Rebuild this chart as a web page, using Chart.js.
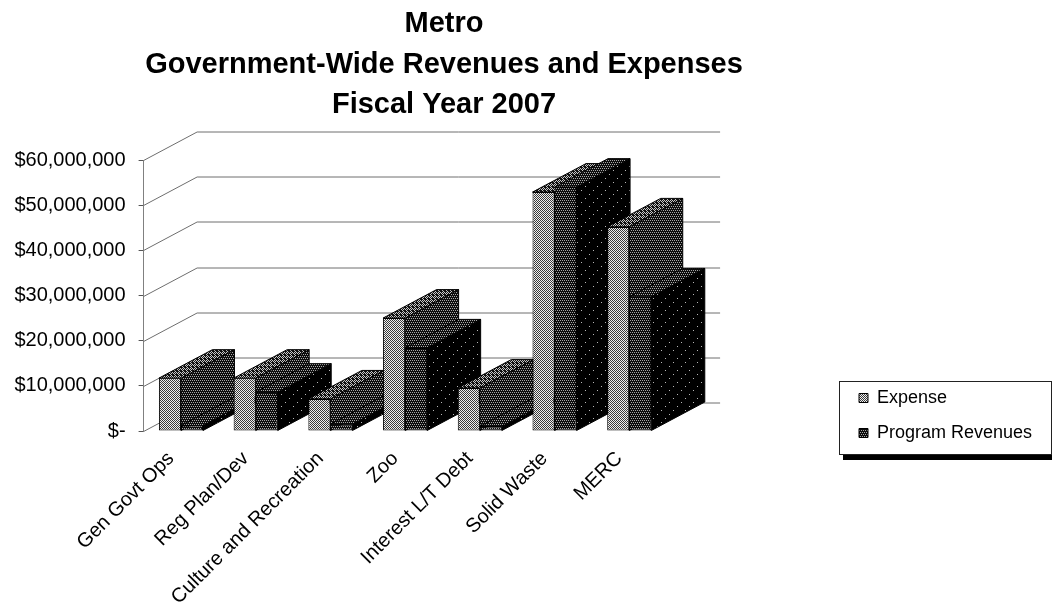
<!DOCTYPE html>
<html>
<head>
<meta charset="utf-8">
<title>Metro revenues and expenses</title>
<script src="https://cdn.jsdelivr.net/npm/chart.js@4"></script>
<style>
  html, body { margin: 0; padding: 0; background: #fff; overflow: hidden; }
  canvas { display: block; }
</style>
</head>
<body>
<canvas id="graphique" width="1052" height="603"></canvas>
<script>
const categories = ["Gen Govt Ops", "Reg Plan/Dev", "Culture and Recreation", "Zoo", "Interest L/T Debt", "Solid Waste", "MERC"];
const expense = [11700000, 11700000, 7100000, 25000000, 9500000, 52900000, 45200000];
const programRevenues = [1200000, 8600000, 1500000, 18400000, 1000000, 54000000, 29700000];
const yTickLabels = ["$-", "$10,000,000", "$20,000,000", "$30,000,000", "$40,000,000", "$50,000,000", "$60,000,000"];
const titleLines = ["Metro", "Government-Wide Revenues and Expenses", "Fiscal Year 2007"];

// Depth of the fake 3D boxes and of the back wall
const DEPTH_X = 53.5;
const DEPTH_Y = 28.5;

// Legend frame, the legend itself only lays out the entries inside it
const FRAME = { left: 840, top: 382, width: 212, height: 73 };

// Small repeating tile of dots, used as a dithered fill
function dither(background, dotColor, dots, w, h) {
  const tile = document.createElement("canvas");
  tile.width = w;
  tile.height = h;
  const c = tile.getContext("2d");
  c.fillStyle = background;
  c.fillRect(0, 0, w, h);
  c.fillStyle = dotColor;
  for (const d of dots) {
    c.fillRect(d[0], d[1], 1, 1);
  }
  return c.createPattern(tile, "repeat");
}

const fillLight = dither("#f0f0f0", "#3a3a3a", [[0, 0], [2, 0], [1, 1], [3, 1], [0, 2], [2, 2], [1, 3], [3, 3]], 4, 4);
const fillTop = dither("#111111", "#c8c8c8", [[0, 0], [2, 0], [1, 1], [3, 1], [2, 2], [3, 3]], 4, 4);
const fillDark = dither("#0c0c0c", "#a8a8a8", [[0, 0], [2, 0], [1, 2], [3, 2]], 4, 4);
const fillBlack = dither("#000000", "#b8b8b8", [[1, 2], [9, 6], [5, 10]], 12, 12);

const boxes3d = {
  id: "boxes3d",
  afterLayout(chart) {
    // The title is centred on the plot with its wall, not on the whole page
    chart.titleBlock.left = 0;
    chart.titleBlock.right = 888;
    const legend = chart.legend;
    legend.left = 842;
    legend.right = 1050;
    legend.top = 372;
    legend.bottom = 520;
    legend.width = 208;
    legend.height = 148;
  },
  beforeDraw(chart) {
    const ctx = chart.ctx;
    ctx.save();
    ctx.fillStyle = "#000";
    ctx.fillRect(FRAME.left + 3, FRAME.top + 5, FRAME.width + 2, FRAME.height);
    ctx.fillStyle = "#fff";
    ctx.strokeStyle = "#222";
    ctx.lineWidth = 1;
    ctx.fillRect(FRAME.left, FRAME.top, FRAME.width, FRAME.height);
    ctx.strokeRect(FRAME.left - 0.5, FRAME.top - 0.5, FRAME.width, FRAME.height);
    ctx.restore();
  },
  beforeDatasetsDraw(chart) {
    // Slanted side wall and back wall gridlines
    const ctx = chart.ctx;
    const y = chart.scales.y;
    const area = chart.chartArea;
    ctx.save();
    ctx.strokeStyle = "#6e6e6e";
    ctx.lineWidth = 1;
    for (const tick of y.ticks) {
      const py = Math.round(y.getPixelForValue(tick.value)) + 0.5;
      ctx.beginPath();
      ctx.moveTo(area.left, py);
      ctx.lineTo(area.left + DEPTH_X, py - DEPTH_Y);
      ctx.lineTo(area.right + DEPTH_X, py - DEPTH_Y);
      ctx.stroke();
    }
    ctx.restore();
  },
  beforeDatasetDraw() {
    // Boxes are painted together below, so that they overlap in the right order
    return false;
  },
  afterDatasetsDraw(chart) {
    const ctx = chart.ctx;
    for (let i = 0; i < categories.length; i++) {
      chart.data.datasets.forEach(function (dataset, d) {
        const bar = chart.getDatasetMeta(d).data[i];
        const left = bar.x - bar.width / 2;
        const right = bar.x + bar.width / 2;
        ctx.save();
        ctx.strokeStyle = "#000";
        ctx.lineWidth = 1;
        // right side
        ctx.fillStyle = dataset.sideFill;
        ctx.beginPath();
        ctx.moveTo(right, bar.base);
        ctx.lineTo(right + DEPTH_X, bar.base - DEPTH_Y);
        ctx.lineTo(right + DEPTH_X, bar.y - DEPTH_Y);
        ctx.lineTo(right, bar.y);
        ctx.closePath();
        ctx.fill();
        ctx.stroke();
        // top
        ctx.fillStyle = dataset.topFill;
        ctx.beginPath();
        ctx.moveTo(left, bar.y);
        ctx.lineTo(left + DEPTH_X, bar.y - DEPTH_Y);
        ctx.lineTo(right + DEPTH_X, bar.y - DEPTH_Y);
        ctx.lineTo(right, bar.y);
        ctx.closePath();
        ctx.fill();
        ctx.stroke();
        ctx.restore();
        bar.draw(ctx);
      });
    }
  }
};

new Chart(document.querySelector("#graphique"), {
  type: "bar",
  data: {
    labels: categories,
    datasets: [
      {
        label: "Expense",
        data: expense,
        backgroundColor: fillLight,
        borderColor: "#000",
        borderWidth: 1,
        borderSkipped: false,
        sideFill: fillDark,
        topFill: fillTop
      },
      {
        label: "Program Revenues",
        data: programRevenues,
        backgroundColor: fillDark,
        borderColor: "#000",
        borderWidth: 1,
        borderSkipped: false,
        sideFill: fillBlack,
        topFill: fillDark
      }
    ]
  },
  options: {
    responsive: false,
    animation: false,
    devicePixelRatio: 1,
    categoryPercentage: 0.59,
    barPercentage: 1,
    layout: {
      autoPadding: false,
      padding: { top: 4, right: 385.4, bottom: 0, left: 0 }
    },
    plugins: {
      tooltip: { enabled: false },
      title: {
        display: true,
        text: titleLines,
        color: "#000",
        font: { family: "'Liberation Sans'", size: 29, weight: "bold", lineHeight: 1.397 },
        padding: { top: 0, bottom: 34.5 }
      },
      legend: {
        position: "chartArea",
        align: "start",
        labels: {
          color: "#000",
          font: { family: "'Liberation Sans'", size: 18 },
          boxWidth: 9,
          boxHeight: 9,
          padding: 17
        }
      }
    },
    scales: {
      x: {
        grid: { display: false },
        border: { display: false },
        ticks: {
          color: "#000",
          font: { family: "'Liberation Sans'", size: 20 },
          autoSkip: false,
          minRotation: 45,
          maxRotation: 45,
          padding: 8,
          labelOffset: -10
        },
        afterFit(scale) {
          scale.height = 172;
        }
      },
      y: {
        min: 0,
        max: 60000000,
        grid: { drawOnChartArea: false, color: "#555", tickLength: 5 },
        border: { display: true, color: "#808080", width: 1 },
        ticks: {
          stepSize: 10000000,
          color: "#000",
          font: { family: "'Liberation Sans'", size: 20 },
          padding: 13,
          callback: function (value, index) {
            return yTickLabels[index];
          }
        },
        afterFit(scale) {
          scale.width = 143.6;
        }
      }
    }
  },
  plugins: [boxes3d]
});
</script>
</body>
</html>
